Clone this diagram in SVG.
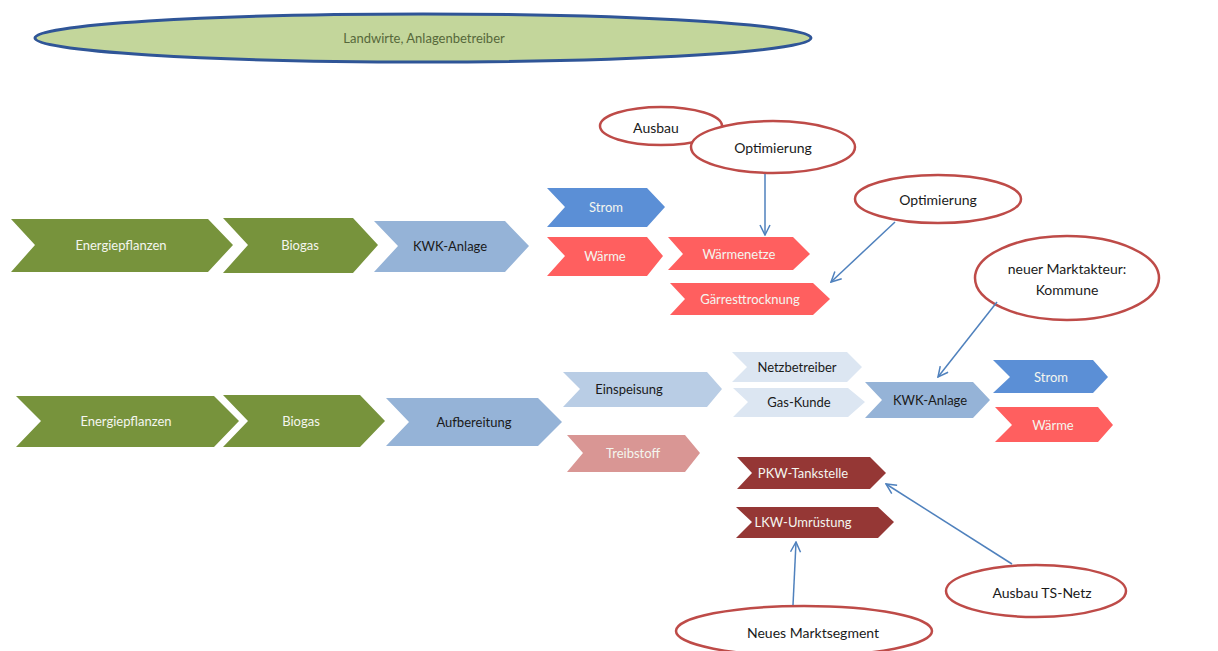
<svg xmlns="http://www.w3.org/2000/svg" width="1218" height="651" viewBox="0 0 1218 651">
<style>
text{font-family:Lato,"Open Sans","Liberation Sans",sans-serif;font-size:13px;text-anchor:middle;dominant-baseline:central}
.w{fill:#f4f6ef}
.d{fill:#1a1a1a}
.c{font-size:14px}
.g{fill:#77933c}
.lb{fill:#95b3d7}
.lb2{fill:#b9cde5}
.lb3{fill:#dce6f2}
.bl{fill:#5b8fd6}
.rd{fill:#ff5f5f}
.pk{fill:#d99694}
.dr{fill:#953735}
.call{fill:#fff;stroke:#be4b48;stroke-width:2.5}
.conn{stroke:#4f81bd;stroke-width:1.5;fill:none}
</style>
<defs>
<marker id="ah" viewBox="0 0 12 12" refX="11" refY="6" markerWidth="12" markerHeight="12" markerUnits="userSpaceOnUse" orient="auto">
<path d="M1,1 L11,6 L1,11" fill="none" stroke="#4f81bd" stroke-width="1.5"/>
</marker>
</defs>
<rect width="1218" height="651" fill="#fff"/>

<g id="landwirte">
<ellipse cx="423" cy="38" rx="388" ry="24" fill="#c3d69b" stroke="#2f5597" stroke-width="3"/>
<text x="424" y="38" fill="#56683a" font-size="14">Landwirte, Anlagenbetreiber</text>
</g>

<g id="r1-energie"><path class="g" d="M11,219 L208,219 L233,245 L208,272 L11,272 L35,245 Z"/><text class="w" x="121" y="245">Energiepflanzen</text></g>
<g id="r1-biogas"><path class="g" d="M223,218 L353,218 L378,245 L353,273 L223,273 L248,245 Z"/><text class="w" x="300" y="245">Biogas</text></g>
<g id="r1-kwk"><path class="lb" d="M374,221 L505,221 L529,246 L505,272 L374,272 L398,246 Z"/><text class="d" x="450" y="246">KWK-Anlage</text></g>
<g id="r1-strom"><path class="bl" d="M547,188 L647,188 L665,207 L647,227 L547,227 L565,207 Z"/><text class="w" x="606" y="207">Strom</text></g>
<g id="r1-waerme"><path class="rd" d="M547,237 L647,237 L663,256 L647,276 L547,276 L565,256 Z"/><text class="w" x="605" y="256">Wärme</text></g>
<g id="waermenetze"><path class="rd" d="M668,237 L793,237 L810,254 L793,270 L668,270 L683,254 Z"/><text class="w" x="739" y="254">Wärmenetze</text></g>
<g id="gaerrest"><path class="rd" d="M670,283 L813,283 L830,299 L813,315 L670,315 L685,299 Z"/><text class="w" x="750" y="299">Gärresttrocknung</text></g>

<g id="ausbau"><ellipse class="call" cx="661" cy="126" rx="61" ry="19"/><text class="d c" x="656" y="127">Ausbau</text></g>
<g id="optimierung1"><ellipse class="call" cx="773" cy="147" rx="82" ry="26"/><text class="d c" x="773" y="147">Optimierung</text></g>
<g id="optimierung2"><ellipse class="call" cx="938" cy="199" rx="83" ry="24"/><text class="d c" x="938" y="199">Optimierung</text></g>
<g id="marktakteur"><ellipse class="call" cx="1067" cy="278" rx="92" ry="42"/><text class="d c" x="1067" y="268">neuer Marktakteur:</text><text class="d c" x="1067" y="289">Kommune</text></g>

<g id="r2-energie"><path class="g" d="M16,396 L214,396 L239,421 L214,447 L16,447 L41,421 Z"/><text class="w" x="126" y="421">Energiepflanzen</text></g>
<g id="r2-biogas"><path class="g" d="M223,395 L360,395 L385,421 L360,447 L223,447 L248,421 Z"/><text class="w" x="301" y="421">Biogas</text></g>
<g id="aufbereitung"><path class="lb" d="M386,398 L538,398 L562,422 L538,446 L386,446 L409,422 Z"/><text class="d" x="474" y="422">Aufbereitung</text></g>
<g id="einspeisung"><path class="lb2" d="M563,372 L707,372 L722,389 L707,407 L563,407 L580,389 Z"/><text class="d" x="629" y="389">Einspeisung</text></g>
<g id="treibstoff"><path class="pk" d="M567,435 L685,435 L700,453 L685,472 L567,472 L583,453 Z"/><text class="w" x="633" y="453">Treibstoff</text></g>
<g id="netzbetreiber"><path class="lb3" d="M732,352 L847,352 L862,367 L847,382 L732,382 L747,367 Z"/><text class="d" x="797" y="367">Netzbetreiber</text></g>
<g id="gaskunde"><path class="lb3" d="M733,388 L848,388 L865,402 L848,417 L733,417 L748,402 Z"/><text class="d" x="799" y="402">Gas-Kunde</text></g>
<g id="r2-kwk"><path class="lb" d="M865,382 L973,382 L990,400 L973,418 L865,418 L882,400 Z"/><text class="d" x="930" y="400">KWK-Anlage</text></g>
<g id="r2-strom"><path class="bl" d="M993,360 L1093,360 L1108,377 L1093,393 L993,393 L1010,377 Z"/><text class="w" x="1051" y="377">Strom</text></g>
<g id="r2-waerme"><path class="rd" d="M995,407 L1098,407 L1113,425 L1098,442 L995,442 L1012,425 Z"/><text class="w" x="1053" y="425">Wärme</text></g>
<g id="pkw"><path class="dr" d="M737,457 L870,457 L886,473 L870,489 L737,489 L752,473 Z"/><text class="w" x="803" y="473">PKW-Tankstelle</text></g>
<g id="lkw"><path class="dr" d="M736,507 L878,507 L894,522 L878,538 L736,538 L752,522 Z"/><text class="w" x="803" y="522">LKW-Umrüstung</text></g>

<g id="ts-netz"><ellipse class="call" cx="1036" cy="591" rx="90" ry="26"/><text class="d c" x="1042" y="592">Ausbau TS-Netz</text></g>
<g id="marktsegment"><ellipse class="call" cx="804" cy="631" rx="128" ry="25"/><text class="d c" x="813" y="632">Neues Marktsegment</text></g>

<g id="connectors">
<line class="conn" x1="765" y1="174" x2="765" y2="235" marker-end="url(#ah)"/>
<line class="conn" x1="895" y1="222" x2="831" y2="282" marker-end="url(#ah)"/>
<line class="conn" x1="997" y1="302" x2="938" y2="377" marker-end="url(#ah)"/>
<line class="conn" x1="1012" y1="564" x2="886" y2="484" marker-end="url(#ah)"/>
<line class="conn" x1="793" y1="605" x2="796" y2="542" marker-end="url(#ah)"/>
</g>
</svg>
